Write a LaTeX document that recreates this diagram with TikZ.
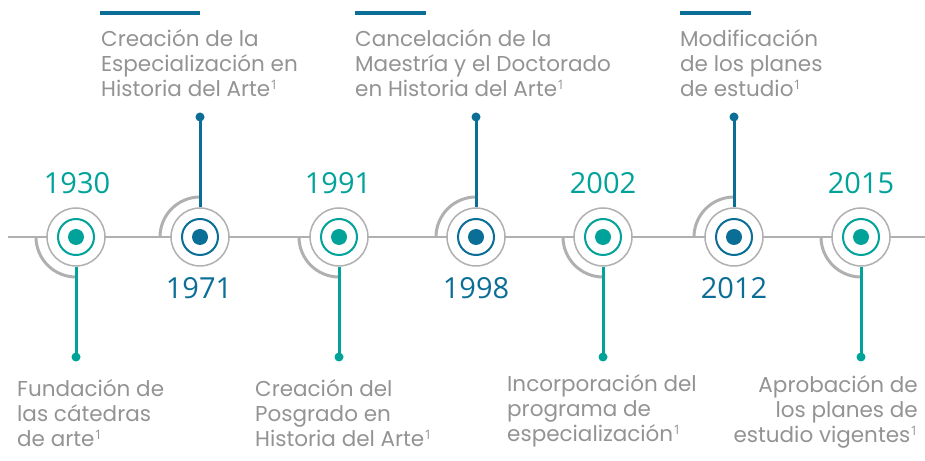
\documentclass[tikz,border=0pt]{standalone}
\usepackage{fontspec}
\setmainfont{Poppins}
\newfontfamily\yearfont{Open Sans}
\definecolor{tealc}{HTML}{00A29A}
\definecolor{bluec}{HTML}{0B6E96}
\definecolor{grayline}{HTML}{B0B0B0}
\definecolor{txtgray}{HTML}{939393}
\newcommand{\supone}{{\yearfont\fontsize{13}{13}\selectfont\raisebox{7pt}{1}}}
\tikzset{
  outer/.style={circle, draw=grayline, line width=1.5pt, fill=white, minimum size=58pt, inner sep=0pt},
  ring/.style={circle, draw=#1, line width=2pt, fill=white, minimum size=36pt, inner sep=0pt},
  core/.style={circle, fill=#1, minimum size=16pt, inner sep=0pt},
  tipdot/.style={circle, fill=#1, minimum size=9pt, inner sep=0pt},
  stem/.style={draw=#1, line width=3pt},
  bigarc/.style={draw=grayline, line width=3pt},
  topbar/.style={draw=bluec, line width=4pt},
  yearlbl/.style={font=\yearfont\fontsize{29}{31}\selectfont, text=#1, inner sep=0pt},
  desc/.style={font=\fontsize{21.5}{25}\selectfont, text=txtgray, inner sep=0pt},
}
\begin{document}
\begin{tikzpicture}[x=1pt,y=1pt]
\useasboundingbox (0,0) rectangle (925,460);
% main line
\coordinate (ls) at (8,223);
\coordinate (le) at (925,223);
\draw[grayline, line width=2pt] (ls) -- (le);

% ---- bottom-type events (teal) ----
\foreach \nm/\xx in {a/76, c/339, e/603, g/861}{
  \draw[bigarc] (\xx,223) ++(180:40) arc[start angle=180, end angle=270, radius=40];
  \node[outer] (o\nm) at (\xx,223) {};
  \node[ring=tealc] (r\nm) at (\xx,223) {};
  \node[core=tealc] (k\nm) at (\xx,223) {};
  \node[tipdot=tealc] (d\nm) at (\xx,103) {};
  \draw[stem=tealc] (o\nm.south) -- (d\nm.center);
}
% ---- top-type events (blue) ----
\foreach \nm/\xx in {b/200, d/476, f/734}{
  \draw[bigarc] (\xx,223) ++(90:40) arc[start angle=90, end angle=180, radius=40];
  \node[outer] (o\nm) at (\xx,223) {};
  \node[ring=bluec] (r\nm) at (\xx,223) {};
  \node[core=bluec] (k\nm) at (\xx,223) {};
  \node[tipdot=bluec] (d\nm) at (\xx,343) {};
  \draw[stem=bluec] (o\nm.north) -- (d\nm.center);
}

% years
\node[yearlbl=tealc, anchor=base] (y1930) at (77,266) {1930};
\node[yearlbl=tealc, anchor=base] (y1991) at (338,266) {1991};
\node[yearlbl=tealc, anchor=base] (y2002) at (603,266) {2002};
\node[yearlbl=tealc, anchor=base] (y2015) at (861,266) {2015};
\node[yearlbl=bluec, anchor=base] (y1971) at (199,161) {1971};
\node[yearlbl=bluec, anchor=base] (y1998) at (476,161) {1998};
\node[yearlbl=bluec, anchor=base] (y2012) at (734,161) {2012};

% top descriptions (base anchor = last line)
\draw[topbar] (100,447) -- (200,447);
\node[desc, align=left, anchor=base west] (t1971) at (101,363) {Creación de la\\Especialización en\\Historia del Arte\supone};
\draw[topbar] (355,447) -- (426,447);
\node[desc, align=left, anchor=base west] (t1998) at (355,363) {Cancelación de la\\Maestría y el Doctorado\\en Historia del Arte\supone};
\draw[topbar] (680,447) -- (751,447);
\node[desc, align=left, anchor=base west] (t2012) at (680,363) {Modificación\\de los planes\\de estudio\supone};

% bottom descriptions
\node[desc, align=left, anchor=base west] (t1930) at (17,14) {Fundación de\\las cátedras\\de arte\supone};
\node[desc, align=left, anchor=base west] (t1991) at (255,14) {Creación del\\Posgrado en\\Historia del Arte\supone};
\node[desc, align=left, anchor=base west] (t2002) at (507,19) {Incorporación del\\programa de\\especialización\supone};
\node[desc, align=right, anchor=base east] (t2015) at (918,18) {Aprobación de\\los planes de\\estudio vigentes\supone};
\end{tikzpicture}
\end{document}
